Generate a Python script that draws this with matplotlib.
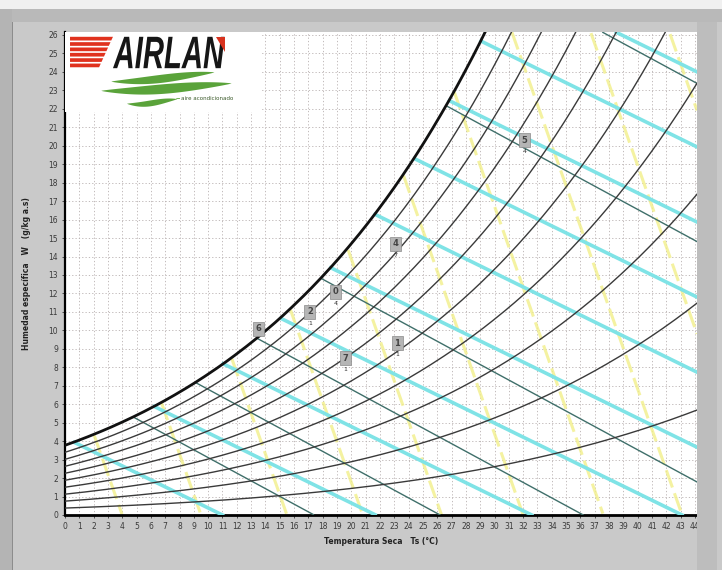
import numpy as np
import matplotlib.pyplot as plt
from matplotlib.patches import Polygon, Rectangle, PathPatch
from matplotlib.textpath import TextPath
from matplotlib.font_manager import FontProperties
from matplotlib.transforms import Affine2D

P_ATM = 101.325  # kPa

# saturation humidity ratio (g/kg dry air) against dry-bulb temperature
t_sat = [0, 2, 4, 6, 8, 10, 12, 14, 16, 18, 20, 22, 24, 26, 28, 30,
         32, 34, 36, 38, 40, 42, 44, 46]
w_sat = [3.775, 4.364, 5.034, 5.795, 6.657, 7.632, 8.732, 9.972, 11.37,
         12.94, 14.70, 16.67, 18.88, 21.36, 24.12, 27.21, 30.66, 34.50,
         38.79, 43.57, 48.89, 54.83, 61.46, 68.86]
rh_levels = [10, 20, 30, 40, 50, 60, 70, 80, 90]

# straight line families: dry-bulb where each line meets W = 0, and slope (g/kg per degC)
cyan_t0 = [11.0, 21.7, 32.6, 43.1, 53.8, 64.5, 75.2, 85.9, 96.6, 107.3]
cyan_slope = -0.38
teal_t0 = [17.4, 26.2, 36.2, 48.4, 79.4, 99.8]
teal_slope = -0.42
yellow_t0 = [4.0, 9.5, 15.5, 20.8, 26.3, 32.0, 37.6, 43.1, 48.6, 54.1]
yellow_slope = -2.2

# process points: label, subscript, dry-bulb, humidity ratio
pt_labels = ["6", "2", "0", "7", "1", "4", "5"]
pt_subs = ["", "1", "4", "1", "1", "7", "4"]
pt_t = [13.5, 17.1, 18.9, 19.6, 23.2, 23.1, 32.1]
pt_w = [10.1, 11.0, 12.1, 8.5, 9.3, 14.7, 20.3]

x_ticks = list(range(0, 45))
y_ticks = list(range(0, 27))

T = np.linspace(0, 44.14, 600)
w_s = np.exp(np.interp(T, t_sat, np.log(w_sat)))
p_ws = w_s * P_ATM / (622.0 + w_s)


def sat_at(t):
    return np.exp(np.interp(t, t_sat, np.log(w_sat)))


fig = plt.figure(figsize=(7.22, 5.70), dpi=100)
fig.patch.set_facecolor("#c9c9c9")
# window frame bits
frame = [((0, 0), 0.016, 1, "#b4b4b4"),
         ((0.016, 0), 0.0025, 0.975, "#8c8c8c"),
         ((0, 0.985), 1, 0.015, "#f0f0f0"),
         ((0.016, 0.962), 0.984, 0.023, "#b9b9b9"),
         ((0.965, 0), 0.028, 0.962, "#bdbdbd")]
for xy, w, h, c in frame:
    fig.patches.append(Rectangle(xy, w, h, transform=fig.transFigure,
                                 facecolor=c, edgecolor="none", zorder=0))

ax = fig.add_axes([65 / 722, 55 / 570, 632 / 722, 483 / 570])
ax.set_facecolor("white")
ax.set_xlim(0, 44.14)
ax.set_ylim(0, 26.16)

ax.set_xticks(x_ticks)
ax.set_yticks(y_ticks)
ax.tick_params(labelsize=5.5, colors="#3a3a3a", length=2, width=0.6, pad=3)
ax.grid(True, color="#b8b0b0", linestyle=(0, (1.5, 2.5)), linewidth=0.6)
for side in ["top", "right"]:
    ax.spines[side].set_visible(False)
ax.spines["left"].set_linewidth(1.6)
ax.spines["bottom"].set_linewidth(2.0)

ax.set_xlabel("Temperatura Seca   Ts (°C)", fontsize=5.5, fontweight="bold",
              color="#222222")
ax.xaxis.set_label_coords(0.5, -0.045)
ax.set_ylabel("Humedad específica   W   (g/kg a.s)", fontsize=5.5, fontweight="bold",
              color="#222222")
ax.yaxis.set_label_coords(-0.054, 0.5)


def clip_line(t0, slope):
    t = np.linspace(0, 44.14, 800)
    w = slope * (t - t0)
    ok = (w >= 0) & (w <= sat_at(t)) & (w <= 26.16)
    return t[ok], w[ok]


for t0 in yellow_t0:
    t, w = clip_line(t0, yellow_slope)
    ax.plot(t, w, color="#f2ef8a", lw=2.2, ls=(0, (6, 2)), alpha=0.8, zorder=2)
for t0 in cyan_t0:
    t, w = clip_line(t0, cyan_slope)
    ax.plot(t, w, color="#7fe3e6", lw=2.6, zorder=3)
for t0 in teal_t0:
    t, w = clip_line(t0, teal_slope)
    ax.plot(t, w, color="#3f6f6a", lw=1.0, zorder=4)

for rh in rh_levels:
    phi = rh / 100.0
    w = 622.0 * phi * p_ws / (P_ATM - phi * p_ws)
    ax.plot(T, w, color="#3a3a3a", lw=1.0, zorder=5)
ax.plot(T, w_s, color="#111111", lw=2.0, zorder=6)

for lab, sub, t, w in zip(pt_labels, pt_subs, pt_t, pt_w):
    ax.text(t, w, lab, fontsize=6, fontweight="bold", color="#444444",
            ha="center", va="center", zorder=8,
            bbox=dict(boxstyle="square,pad=0.3", facecolor="#b5b5b5",
                      edgecolor="#8a8a8a", linewidth=0.5))
    if sub:
        ax.text(t, w - 0.62, sub, fontsize=4.5, color="#333333",
                ha="center", va="center", zorder=8)

# company logo in the top-left corner
ax.add_patch(Rectangle((0, 21.85), 13.7, 4.31, facecolor="white",
                       edgecolor="none", zorder=9))
for i in range(6):
    top = 25.9 - i * 0.29
    bot = top - 0.2
    xr = 3.35 - i * 0.17
    ax.add_patch(Polygon([(0.35, top), (xr, top), (xr - 0.12, bot), (0.35, bot)],
                         closed=True, facecolor="#e0321e", edgecolor="none", zorder=10))

fp = FontProperties(family="Liberation Sans", weight="bold", style="italic")
tp = TextPath((0, 0), "AIRLAN", size=1, prop=fp)
bb = tp.get_extents()
fit = (Affine2D().translate(-bb.x0, -bb.y0)
       .scale(7.8 / bb.width, 1.7 / bb.height).translate(3.35, 24.2))
ax.add_patch(PathPatch(fit.transform_path(tp), facecolor="#161616",
                       edgecolor="none", zorder=10))
ax.add_patch(Polygon([(10.55, 25.9), (11.2, 25.9), (11.2, 25.1)], closed=True,
                     facecolor="#d8321e", edgecolor="none", zorder=11))

s = np.linspace(0, 1, 120)
waves = [(3.2, 10.4, 23.5, 24.0, 0.22), (2.5, 11.6, 23.0, 23.4, 0.26),
         (4.3, 7.8, 22.3, 22.55, 0.16)]
for xa, xb, ya, yb, th in waves:
    xs = xa + (xb - xa) * s
    ys = ya + (yb - ya) * s - 0.18 * np.sin(np.pi * s) * (1 - s)
    thick = th * np.sin(np.pi * s) ** 0.8
    ax.fill_between(xs, ys - thick, ys + thick, color="#5aa33a", lw=0, zorder=10)
ax.plot([7.8, 8.0], [22.55, 22.56], color="#5aa33a", lw=0.6, zorder=10)
ax.text(8.1, 22.55, "aire acondicionado", fontsize=4, color="#3b5a2a",
        ha="left", va="center", zorder=10)

fig.savefig("out.png", dpi=100, facecolor=fig.get_facecolor())
